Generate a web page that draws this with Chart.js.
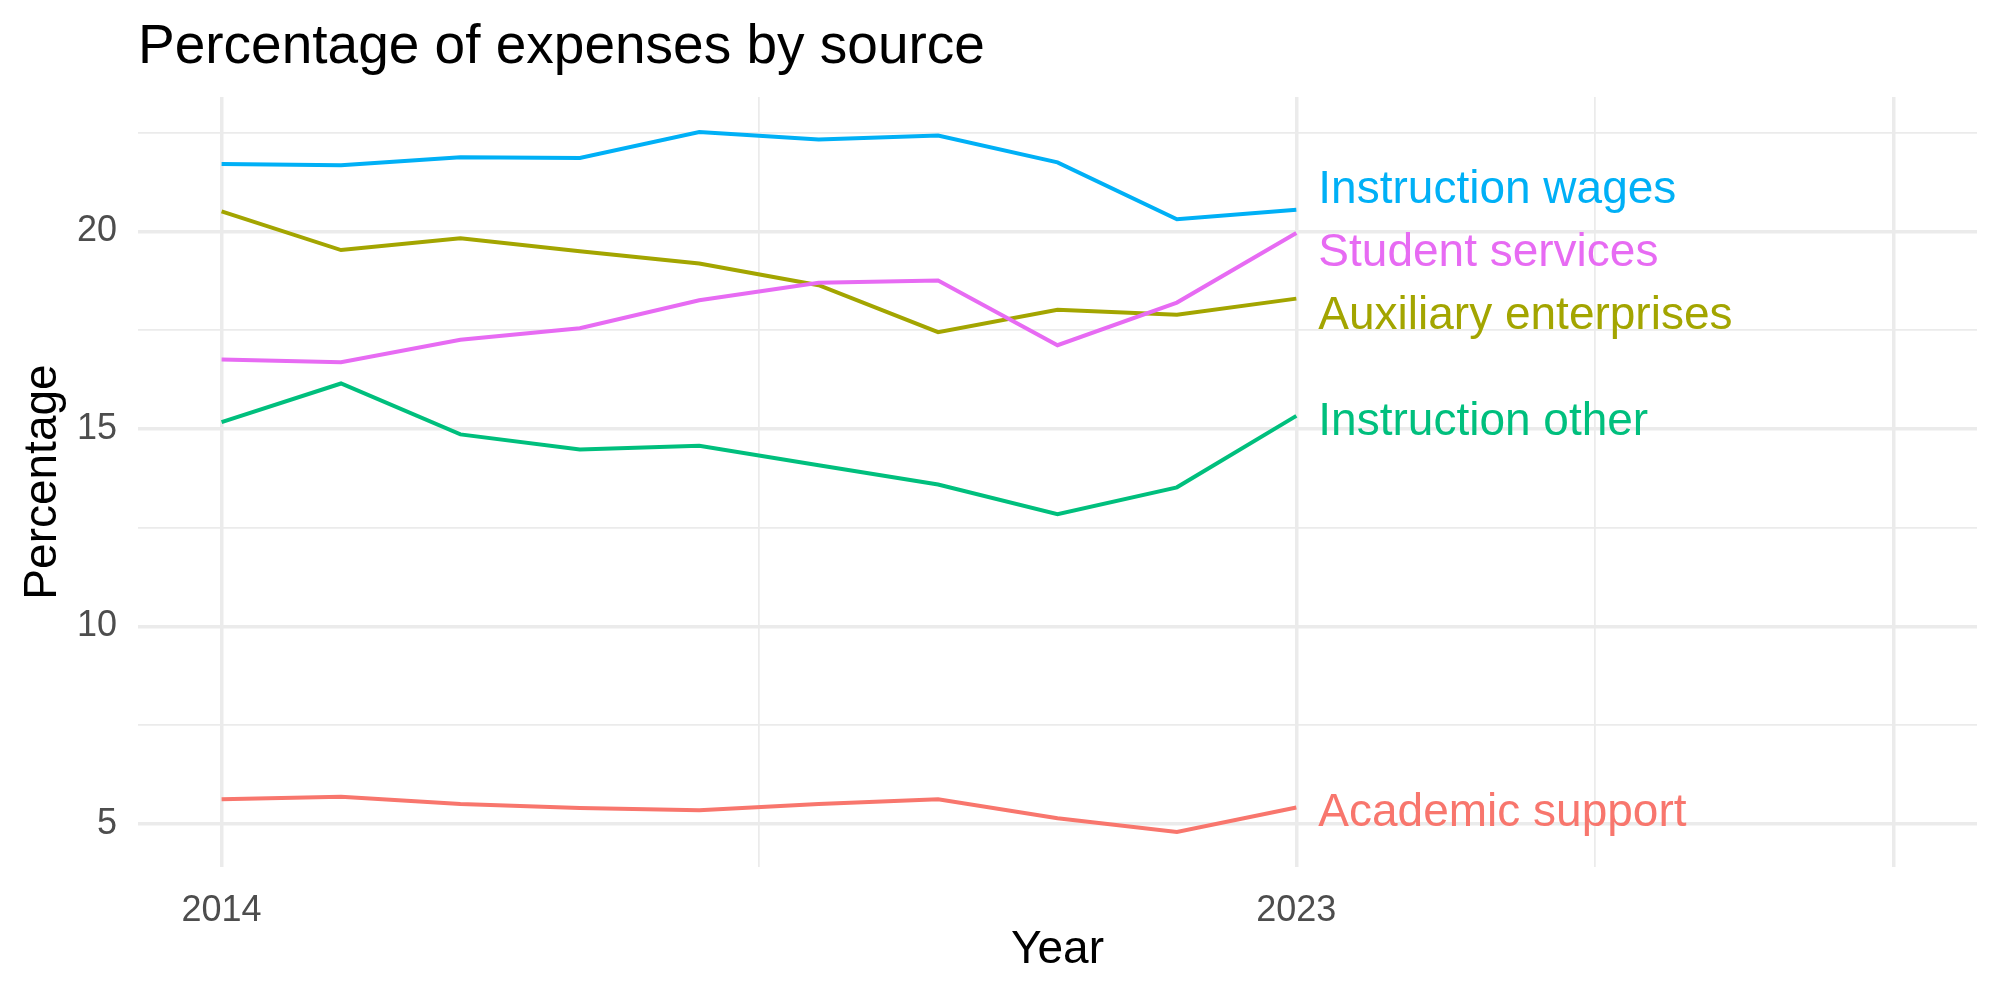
<!DOCTYPE html>
<html>
<head>
<meta charset="utf-8">
<script src="https://cdn.jsdelivr.net/npm/chart.js@4/dist/chart.umd.min.js"></script>
<style>
  html, body { margin: 0; padding: 0; background: #ffffff; }
  #wrap { width: 2000px; height: 1000px; }
</style>
</head>
<body>
<div id="wrap"><canvas id="expChart" width="2000" height="1000"></canvas></div>
<script>
const FONT = "'Liberation Sans', Arial, Helvetica, sans-serif";

const years = [2014, 2015, 2016, 2017, 2018, 2019, 2020, 2021, 2022, 2023];

const academicSupport = [5.62, 5.68, 5.50, 5.40, 5.34, 5.50, 5.62, 5.14, 4.79, 5.41];
const auxiliaryEnterprises = [20.51, 19.53, 19.83, 19.50, 19.19, 18.64, 17.45, 18.02, 17.89, 18.30];
const instructionOther = [15.17, 16.15, 14.86, 14.48, 14.57, 14.08, 13.59, 12.84, 13.52, 15.33];
const instructionWages = [21.71, 21.68, 21.88, 21.86, 22.52, 22.33, 22.43, 21.75, 20.31, 20.55];
const studentServices = [16.76, 16.69, 17.26, 17.55, 18.26, 18.70, 18.76, 17.12, 18.20, 19.96];

const seriesNames = ["Academic support", "Auxiliary enterprises", "Instruction other", "Instruction wages", "Student services"];
const seriesColors = ["#F8766D", "#A3A500", "#00BF7D", "#00B0F6", "#E76BF3"];

const xTicks = [2014, 2018.5, 2023, 2025.5, 2028];
const xLabels = [2014, 2023];
const yTicks = [5, 7.5, 10, 12.5, 15, 17.5, 20, 22.5];
const yLabels = [5, 10, 15, 20];

// ggplot-like expanded limits (5% each side)
const xMin = 2014, xMax = 2028;
const yMinData = 4.79, yMaxData = 22.52;
const xPad = (xMax - xMin) * 0.05;
const yPad = (yMaxData - yMinData) * 0.05;

const allSeries = [academicSupport, auxiliaryEnterprises, instructionOther, instructionWages, studentServices];

const datasets = allSeries.map((vals, i) => ({
    label: seriesNames[i],
    data: vals.map((v, j) => ({ x: years[j], y: v })),
    borderColor: seriesColors[i],
    backgroundColor: seriesColors[i],
    borderWidth: 4,
    pointRadius: 0,
    tension: 0,
    fill: false,
    order: allSeries.length - i
}));

// end labels, pushed apart so they don't overlap
const endLabels = {
    id: "endLabels",
    afterDatasetsDraw(chart) {
        const ctx = chart.ctx;
        const items = [];
        chart.data.datasets.forEach((ds, i) => {
            const meta = chart.getDatasetMeta(i);
            const last = meta.data[meta.data.length - 1];
            items.push({ text: ds.label, color: ds.borderColor, x: last.x, y: last.y });
        });
        items.sort((a, b) => a.y - b.y);
        const minGap = 63;
        for (let k = 0; k < 200; k++) {
            for (let i = 0; i < items.length - 1; i++) {
                const gap = items[i + 1].y - items[i].y;
                if (gap < minGap) {
                    const d = (minGap - gap) / 2;
                    items[i].y -= d;
                    items[i + 1].y += d;
                }
            }
        }
        ctx.save();
        ctx.font = "46px " + FONT;
        ctx.textAlign = "left";
        ctx.textBaseline = "middle";
        items.forEach(it => {
            ctx.fillStyle = it.color;
            ctx.fillText(it.text, it.x + 22, it.y + 6);
        });
        ctx.restore();
    }
};

const ctx = document.getElementById("expChart").getContext("2d");
const expChart = new Chart(ctx, {
    type: "line",
    data: { datasets: datasets },
    options: {
        responsive: false,
        maintainAspectRatio: false,
        animation: false,
        devicePixelRatio: 1,
        layout: { padding: { left: 0, right: 23, top: 0, bottom: 0 } },
        plugins: {
            legend: { display: false },
            tooltip: { enabled: false },
            title: {
                display: true,
                text: "Percentage of expenses by source",
                align: "start",
                fullSize: false,
                color: "#000000",
                font: { family: FONT, size: 55, weight: "normal", lineHeight: 1.2 },
                padding: { top: 15, bottom: 16 }
            }
        },
        scales: {
            x: {
                type: "linear",
                min: xMin - xPad,
                max: xMax + xPad,
                afterBuildTicks(scale) {
                    scale.ticks = xTicks.map(v => ({ value: v }));
                },
                afterFit(scale) { scale.height = 133; },
                border: { display: false },
                grid: {
                    color: "#EBEBEB",
                    drawTicks: false,
                    lineWidth: c => (c.tick && xTicks.indexOf(c.tick.value) % 2 === 1) ? 1.75 : 3.5
                },
                ticks: {
                    autoSkip: false,
                    maxRotation: 0,
                    padding: 22,
                    color: "#4D4D4D",
                    font: { family: FONT, size: 36 },
                    callback: v => xLabels.includes(v) ? String(v) : ""
                },
                title: {
                    display: true,
                    text: "Year",
                    color: "#000000",
                    font: { family: FONT, size: 46 },
                    padding: { top: 0, bottom: 22 }
                }
            },
            y: {
                type: "linear",
                min: yMinData - yPad,
                max: yMaxData + yPad,
                afterBuildTicks(scale) {
                    scale.ticks = yTicks.map(v => ({ value: v }));
                },
                afterFit(scale) { scale.width = 138; },
                border: { display: false },
                grid: {
                    color: "#EBEBEB",
                    drawTicks: false,
                    lineWidth: c => (c.tick && yLabels.includes(c.tick.value)) ? 3.5 : 1.75
                },
                ticks: {
                    autoSkip: false,
                    padding: 21,
                    color: "#4D4D4D",
                    font: { family: FONT, size: 36 },
                    callback: v => yLabels.includes(v) ? String(v) : ""
                },
                title: {
                    display: true,
                    text: "Percentage",
                    color: "#000000",
                    font: { family: FONT, size: 46 },
                    padding: { top: 16, bottom: 0 }
                }
            }
        }
    },
    plugins: [endLabels]
});
</script>
</body>
</html>
